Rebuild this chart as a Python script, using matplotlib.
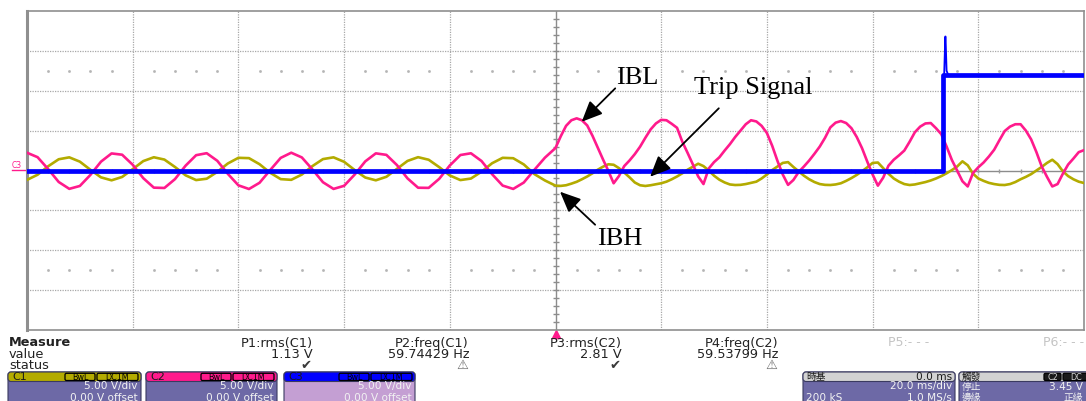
import numpy as np
import matplotlib.pyplot as plt
from matplotlib.patches import FancyBboxPatch

# scope settings: 20 ms/div (10 div), 5 V/div (8 div)
t_pre = np.arange(-100, 0, 2)
t_post = np.arange(0, 101, 1)

# C2 (pink) - IBL in volts
ibl_pre = [2.23, 1.67, 0.18, -1.44, -2.30, -1.94, -0.55, 1.11, 2.14, 1.98,
           0.72, -0.96, -2.15, -2.19, -1.08, 0.60, 1.92, 2.17, 1.22, -0.42,
           -1.86, -2.32, -1.54, 0.04, 1.58, 2.23, 1.64, 0.14, -1.47, -2.31,
           -1.92, -0.51, 1.14, 2.15, 1.96, 0.68, -0.99, -2.16, -2.18, -1.04,
           0.63, 1.94, 2.16, 1.19, -0.46, -1.89, -2.31, -1.51, 0.08, 1.61]
ibl_post = [2.82, 4.3, 5.6, 6.3, 6.54, 6.3, 5.65, 4.35, 2.85, 1.37,
            -0.05, -1.6, -0.7, 0.55, 1.25, 2.05, 2.98, 4.1, 5.15, 5.9,
            6.35, 6.3, 5.85, 5.35, 3.6, 2.2, 0.75, -0.75, -1.7, 0.25,
            1.05, 1.65, 2.5, 3.3, 4.2, 5.0, 5.8, 6.3, 6.15, 5.6,
            4.7, 3.1, 1.2, -0.5, -1.8, -1.2, -0.2, 0.5, 1.25, 2.1,
            3.0, 4.1, 5.4, 6.0, 6.2, 5.95, 5.3, 4.2, 2.8, 1.1,
            -0.5, -1.9, -0.9, 0.6, 1.35, 1.9, 2.5, 3.6, 4.8, 5.5,
            5.9, 5.95, 5.3, 4.55, 3.0, 1.32, 0.0, -1.35, -2.0, -0.31,
            0.4, 1.0, 1.75, 2.6, 3.8, 4.95, 5.5, 5.8, 5.8, 5.0,
            3.9, 2.3, 0.5, -0.8, -2.0, -1.7, -0.4, 0.75, 1.5, 2.3,
            2.55]

# C1 (olive) - IBH
ibh_pre = [-1.18, -0.53, 0.53, 1.41, 1.65, 1.11, 0.09, -0.86, -1.23, -0.81,
           0.17, 1.18, 1.66, 1.37, 0.44, -0.60, -1.20, -1.03, -0.18, 0.88,
           1.59, 1.55, 0.79, -0.28, -1.08, -1.17, -0.51, 0.55, 1.43, 1.65,
           1.09, 0.06, -0.88, -1.23, -0.79, 0.20, 1.20, 1.67, 1.35, 0.42,
           -0.62, -1.20, -1.01, -0.15, 0.91, 1.59, 1.54, 0.76, -0.45, -1.25]
ibh_post = [-1.9, -1.93, -1.85, -1.65, -1.42, -1.1, -0.75, -0.35, 0.1, 0.48,
            0.78, 0.72, 0.3, -0.25, -0.85, -1.5, -1.85, -1.94, -1.85, -1.72,
            -1.6, -1.4, -1.1, -0.75, -0.35, 0.1, 0.48, 0.85, 0.55, 0.0,
            -0.65, -1.15, -1.5, -1.75, -1.82, -1.8, -1.7, -1.55, -1.4, -1.0,
            -0.5, 0.05, 0.5, 0.95, 1.05, 0.45, -0.1, -0.65, -1.1, -1.45,
            -1.7, -1.8, -1.82, -1.75, -1.6, -1.3, -0.95, -0.55, -0.1, 0.4,
            0.95, 1.0, 0.3, -0.4, -1.0, -1.4, -1.7, -1.82, -1.75, -1.6,
            -1.45, -1.25, -1.0, -0.7, -0.35, 0.05, 0.5, 1.15, 0.65, -0.4,
            -1.0, -1.3, -1.55, -1.7, -1.8, -1.82, -1.7, -1.45, -1.1, -0.8,
            -0.45, 0.0, 0.45, 0.95, 1.35, 0.8, -0.1, -0.7, -1.1, -1.4,
            -1.57]

# C3 (blue) - trip signal
trip_t = [-100, 73.35, 73.35, 100]
trip_v = [-0.05, -0.05, 12.0, 12.0]
edge_t = [73.3, 73.4, 73.55, 73.75, 73.8, 74.0, 74.3]
edge_v = [0.0, 8.8, 12.2, 16.8, 16.8, 12.5, 12.0]

meas_names = ['P1:rms(C1)', 'P2:freq(C1)', 'P3:rms(C2)', 'P4:freq(C2)']
meas_values = ['1.13 V', '59.74429 Hz', '2.81 V', '59.53799 Hz']
meas_status = ['\u2714', '\u26a0', '\u2714', '\u26a0']

PINK = '#ff1a8c'
OLIVE = '#b3ab00'
BLUE = '#0000ff'
PURPLE = '#6d69a6'

fig = plt.figure(figsize=(10.86, 4.01), dpi=100)
ov = fig.add_axes([0, 0, 1, 1])
ov.set_xlim(0, 1086)
ov.set_ylim(401, 0)
ov.axis('off')

ax = fig.add_axes([27 / 1086, 1 - 330 / 401, 1057 / 1086, 319 / 401])
ax.set_xlim(-100, 100)
ax.set_ylim(-20, 20)
ax.set_xticks([])
ax.set_yticks([])
for s in ax.spines.values():
    s.set_color('#8f8f8f')
    s.set_linewidth(1.2)
ax.spines['left'].set_linewidth(2.2)

# graticule
for x in range(-80, 100, 20):
    if x != 0:
        ax.axvline(x, color='#a8a8a8', lw=0.9, ls=(0, (1, 1)), zorder=1)
for y in range(-15, 20, 5):
    if y != 0:
        ax.axhline(y, color='#a8a8a8', lw=0.9, ls=(0, (1, 1)), zorder=1)
ax.axhline(0, color='#8c8c8c', lw=1.0, zorder=1)
ax.axvline(0, color='#8c8c8c', lw=1.0, zorder=1)
xt = np.arange(-96, 100, 4)
ax.plot(xt, np.zeros_like(xt), ls='none', marker='|', ms=3, color='#9a9a9a', zorder=1)
yt = np.arange(-19, 20, 1)
ax.plot(np.zeros_like(yt), yt, ls='none', marker='_', ms=5, color='#8c8c8c', zorder=1)
xd = xt[xt % 20 != 0]
for yy in (12.5, -12.5):
    ax.plot(xd, np.full(len(xd), yy), ls='none', marker='s', ms=0.9, color='#b4b4b4', zorder=1)

t_all = np.concatenate([t_pre, t_post])
ax.plot(t_all, ibh_pre + ibh_post, color=OLIVE, lw=1.9, zorder=3)
ax.plot(t_all, ibl_pre + ibl_post, color=PINK, lw=1.9, zorder=4)
ax.plot(trip_t, trip_v, color=BLUE, lw=3.4, zorder=5)
ax.plot(edge_t, edge_v, color=BLUE, lw=1.3, zorder=5)

# labels and arrows
serif = dict(family='Liberation Serif', fontsize=19, color='black')
arw = dict(arrowstyle='-|>,head_length=0.9,head_width=0.4', color='black', lw=1.3,
           mutation_scale=14, shrinkA=0, shrinkB=0)
ax.text(15.5, 11.6, 'IBL', ha='center', va='center', zorder=6, **serif)
ax.annotate('', xy=(4.96, 6.11), xytext=(11.3, 10.3), arrowprops=arw, zorder=6)
ax.text(37.5, 10.4, 'Trip Signal', ha='center', va='center', zorder=6, **serif)
ax.annotate('', xy=(17.9, -0.78), xytext=(30.9, 7.8), arrowprops=arw, zorder=6)
ax.text(12.2, -8.6, 'IBH', ha='center', va='center', zorder=6, **serif)
ax.annotate('', xy=(0.85, -2.66), xytext=(7.5, -6.8), arrowprops=arw, zorder=6)

# channel marker at left
ov.text(17, 165, 'C3', color=PINK, fontsize=5.5, ha='center', va='center')
ov.plot([12, 27], [170, 170], color=PINK, lw=1.0)
ov.plot([556], [333.5], marker='^', ms=6, color=PINK, clip_on=False)

# measurement panel
txt = dict(family='DejaVu Sans', fontsize=9.3, color='#222222', va='center')
ov.text(9, 343, 'Measure', fontweight='bold', ha='left', **txt)
ov.text(9, 354, 'value', ha='left', **txt)
ov.text(9, 365.5, 'status', ha='left', **txt)
rights = [313, 469, 622, 778]
for r, n, v, st in zip(rights, meas_names, meas_values, meas_status):
    ov.text(r, 343, n, ha='right', **txt)
    ov.text(r, 354, v, ha='right', **txt)
    ov.text(r - 7, 365.5, st, ha='center', family='DejaVu Sans', fontsize=9.5,
            color='#3a3a3a' if st == '\u2714' else '#6a6a6a', va='center')
ov.text(888, 343, 'P5:- - -', ha='left', family='DejaVu Sans', fontsize=9, color='#c4c4c4', va='center')
ov.text(1043, 343, 'P6:- - -', ha='left', family='DejaVu Sans', fontsize=9, color='#c4c4c4', va='center')

cjk = ['Noto Sans CJK TC', 'DejaVu Sans']
box_txt = dict(family='DejaVu Sans', fontsize=7.6, color='#f2f2f2', va='center')
cjk_txt = dict(family=cjk, fontsize=7.0, color='#f2f2f2', va='center')


def box(x0, x1, head_col, body_col):
    ov.add_patch(FancyBboxPatch((x0, 372), x1 - x0, 36, boxstyle='round,pad=0,rounding_size=3',
                                fc=body_col, ec='#3a3a60', lw=0.8))
    ov.add_patch(FancyBboxPatch((x0, 372), x1 - x0, 9.5, boxstyle='round,pad=0,rounding_size=3',
                                fc=head_col, ec='#3a3a60', lw=0.8))


def tag(x0, x1, label, fc, tc):
    ov.add_patch(FancyBboxPatch((x0, 373.3), x1 - x0, 7.2, boxstyle='round,pad=0,rounding_size=1.5',
                                fc=fc, ec='black', lw=0.9))
    ov.text((x0 + x1) / 2, 377.1, label, ha='center', va='center', family='DejaVu Sans',
            fontsize=5.8, color=tc)


chans = [(8, 141, OLIVE, PURPLE, 'C1'), (146, 277, PINK, PURPLE, 'C2'), (284, 415, BLUE, '#c49fd3', 'C3')]
for x0, x1, hc, bc, name in chans:
    box(x0, x1, hc, bc)
    ov.text(x0 + 4, 376.8, name, ha='left', va='center', family='DejaVu Sans', fontsize=8, color='#1a1a1a')
    tag(x1 - 76, x1 - 46, 'BwL', hc, 'black')
    tag(x1 - 44, x1 - 3, 'DC1M', hc, 'black')
    ov.text(x1 - 3, 386.5, '5.00 V/div', ha='right', **box_txt)
    ov.text(x1 - 3, 398, '0.00 V offset', ha='right', **box_txt)

# time base and trigger
box(803, 955, '#d2d2d2', PURPLE)
ov.text(806, 376.8, '時基', ha='left', va='center', family=cjk, fontsize=7, color='#1a1a1a')
ov.text(952, 376.8, '0.0 ms', ha='right', va='center', family='DejaVu Sans', fontsize=7.6, color='#1a1a1a')
ov.text(952, 386.5, '20.0 ms/div', ha='right', **box_txt)
ov.text(806, 398, '200 kS', ha='left', **box_txt)
ov.text(952, 398, '1.0 MS/s', ha='right', **box_txt)

box(959, 1095, '#d2d2d2', PURPLE)
ov.text(962, 376.8, '觸發', ha='left', va='center', family=cjk, fontsize=7, color='#1a1a1a')
tag(1044, 1061, 'C2', '#1a1a1a', '#d8d8d8')
tag(1063, 1090, 'DC', '#1a1a1a', '#d8d8d8')
ov.text(962, 386.5, '停止', ha='left', **cjk_txt)
ov.text(1083, 386.5, '3.45 V', ha='right', **box_txt)
ov.text(962, 397.5, '邊緣', ha='left', **cjk_txt)
ov.text(1083, 397.5, '正緣', ha='right', **cjk_txt)

fig.savefig('out.png', dpi=100)
